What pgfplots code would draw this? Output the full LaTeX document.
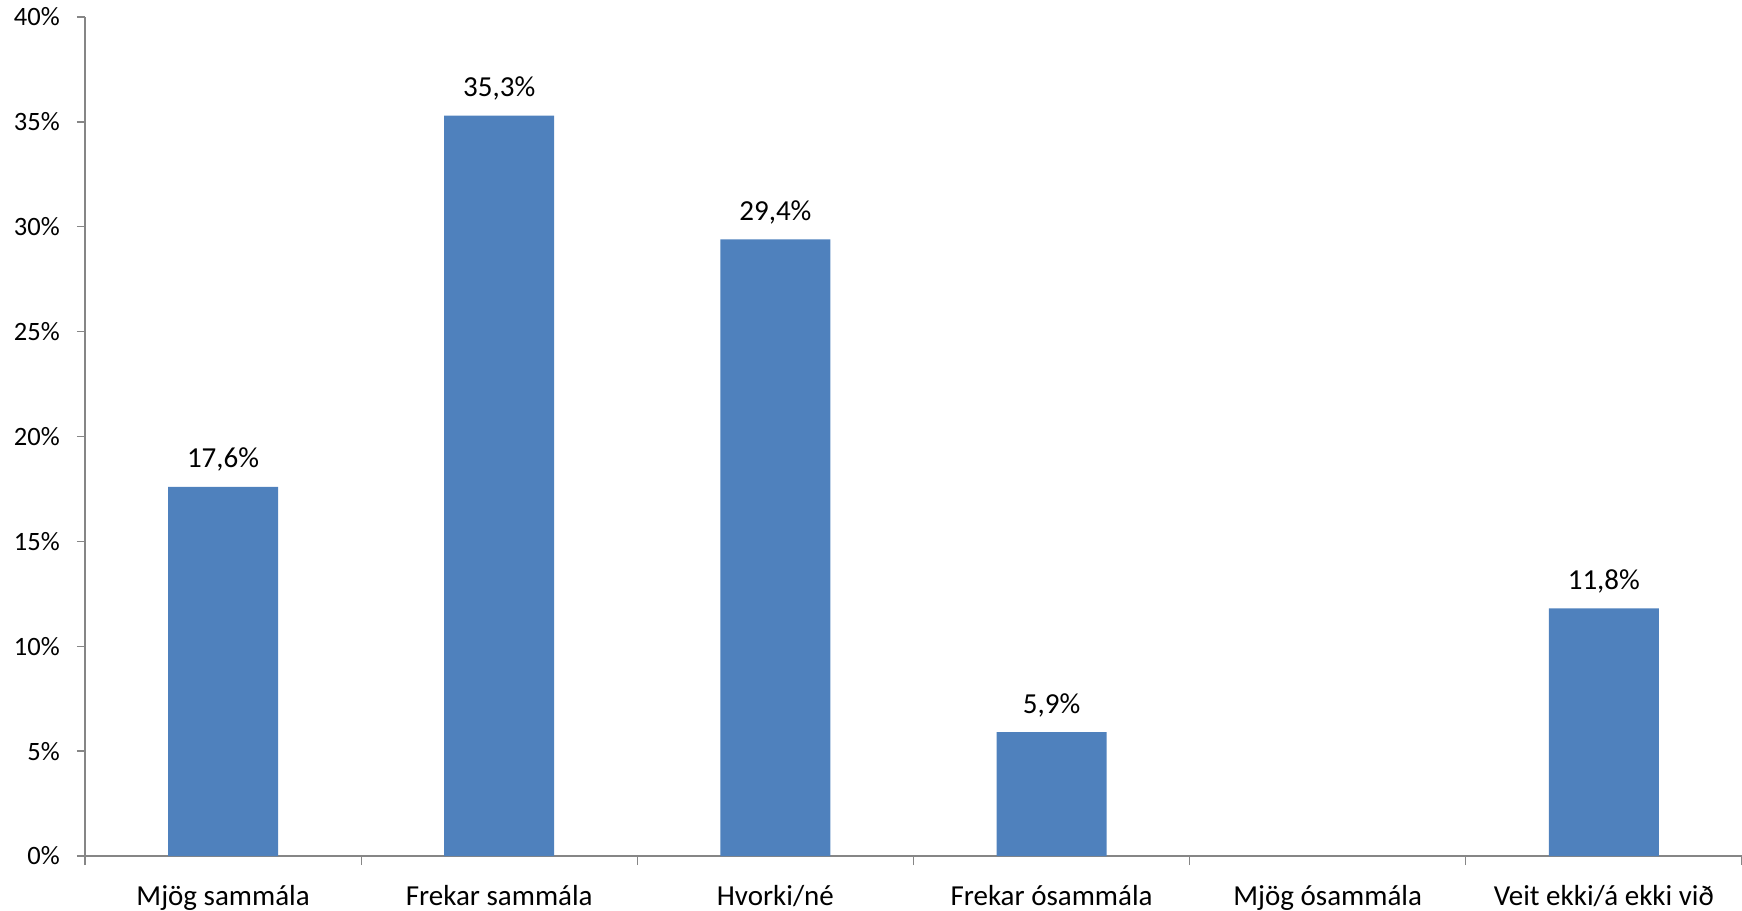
\documentclass[border=0pt]{standalone}
\usepackage{pgfplots}
\pgfplotsset{compat=1.18}
\usepackage{fontspec}
\setmainfont{Carlito}
\definecolor{barblue}{HTML}{4F81BD}
\definecolor{axgray}{HTML}{868686}
\begin{document}
\begin{tikzpicture}
\useasboundingbox (-85pt,-54pt) rectangle (1657pt,856pt);
\begin{axis}[
  scale only axis, width=1657pt, height=839pt,
  xmin=-0.5, xmax=5.5, ymin=0, ymax=40,
  axis x line*=bottom, axis y line*=left,
  axis line style={axgray, line width=1.3pt},
  tick align=outside,
  ytick={0,5,10,15,20,25,30,35,40},
  yticklabels={0\%,5\%,10\%,15\%,20\%,25\%,30\%,35\%,40\%},
  xtick={0,1,2,3,4,5},
  xticklabels={Mjög sammála,Frekar sammála,Hvorki/né,Frekar ósammála,Mjög ósammála,Veit ekki/á ekki við},
  minor xtick={-0.5,0.5,1.5,2.5,3.5,4.5,5.5},
  major x tick style={draw=none},
  minor x tick style={axgray, line width=1.3pt},
  y tick style={axgray, line width=1.3pt},
  major tick length=8pt, minor tick length=9pt,
  tick label style={text=black},
  yticklabel style={font=\fontsize{26.5}{30}\selectfont, anchor=east, inner sep=0pt, xshift=-17pt},
  xticklabel style={font=\fontsize{29}{33}\selectfont, anchor=north, inner sep=0pt, text height=22pt, text depth=7pt, yshift=-19pt},
  point meta=explicit symbolic,
  nodes near coords,
  nodes near coords style={font=\fontsize{29}{33}\selectfont, anchor=base, inner sep=0pt, yshift=19pt, text=black},
  clip=false,
]
\addplot[ybar, fill=barblue, draw=none, bar width=110pt] table[x=x, y=y, meta=lab] {
x y lab
0 17.6 17,6\%
1 35.3 35,3\%
2 29.4 29,4\%
3 5.9 5,9\%
5 11.8 11,8\%
};
\end{axis}
\end{tikzpicture}
\end{document}
